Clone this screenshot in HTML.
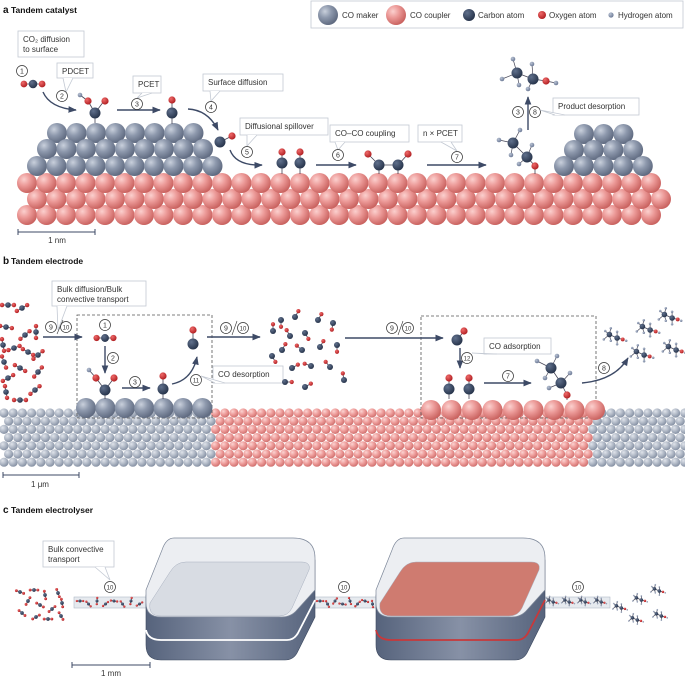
<!DOCTYPE html>
<html><head><meta charset="utf-8"><style>
html,body{margin:0;padding:0;background:#fff}
svg{display:block}
text{font-family:"Liberation Sans",sans-serif}
</style></head><body>
<svg id="s" width="685" height="676" viewBox="0 0 685 676" xmlns="http://www.w3.org/2000/svg">
<defs>
<radialGradient id="gG" cx="35%" cy="32%" r="70%"><stop offset="0" stop-color="#c9d0dc"/><stop offset="0.45" stop-color="#8e99ad"/><stop offset="1" stop-color="#5f6a80"/></radialGradient>
<radialGradient id="gP" cx="35%" cy="32%" r="70%"><stop offset="0" stop-color="#fbd0ce"/><stop offset="0.45" stop-color="#ec9a98"/><stop offset="1" stop-color="#c9625f"/></radialGradient>
<radialGradient id="gSg" cx="35%" cy="32%" r="70%"><stop offset="0" stop-color="#dfe3ea"/><stop offset="0.5" stop-color="#b3bbc8"/><stop offset="1" stop-color="#8590a3"/></radialGradient>
<radialGradient id="gSp" cx="35%" cy="32%" r="70%"><stop offset="0" stop-color="#fbd3d1"/><stop offset="0.5" stop-color="#ee9d9b"/><stop offset="1" stop-color="#d0706e"/></radialGradient>
<radialGradient id="gC" cx="35%" cy="32%" r="70%"><stop offset="0" stop-color="#60708c"/><stop offset="1" stop-color="#27344b"/></radialGradient>
<radialGradient id="gO" cx="35%" cy="32%" r="70%"><stop offset="0" stop-color="#ef6a6a"/><stop offset="1" stop-color="#b01f22"/></radialGradient>
<radialGradient id="gH" cx="35%" cy="32%" r="70%"><stop offset="0" stop-color="#b9c3d4"/><stop offset="1" stop-color="#6d7a96"/></radialGradient>
<linearGradient id="body" x1="0" x2="1"><stop offset="0" stop-color="#56637c"/><stop offset="0.5" stop-color="#8791a6"/><stop offset="1" stop-color="#56637c"/></linearGradient>
<marker id="ar" viewBox="0 0 10 10" refX="9" refY="5" markerWidth="6" markerHeight="6" orient="auto"><path d="M0,1 L10,5 L0,9 z" fill="#3d4a66"/></marker>
</defs>
<g id="g"></g>
</svg>
<script>
var G=document.getElementById('g'),NS='http://www.w3.org/2000/svg';
function el(t,a,txt){var e=document.createElementNS(NS,t);for(var k in a)e.setAttribute(k,a[k]);if(txt!=null)e.textContent=txt;G.appendChild(e);return e;}
function sp(x,y,r,f){el('circle',{cx:x,cy:y,r:r,fill:'url(#'+f+')'});}
function ln(x1,y1,x2,y2,c,w){el('line',{x1:x1,y1:y1,x2:x2,y2:y2,stroke:c||'#3d4a66','stroke-width':w||1});}
function C(x,y,r){sp(x,y,r||5,'gC');}function O(x,y,r){sp(x,y,r||3.5,'gO');}function H(x,y,r){sp(x,y,r||2.3,'gH');}
function txt(x,y,s,sz,a,w,col){el('text',{x:x,y:y,'font-size':sz||8,'text-anchor':a||'start','font-weight':w||'normal',fill:col||'#333'},s);}
function cn(x,y,n){el('circle',{cx:x,cy:y,r:5.5,fill:'#fff',stroke:'#333','stroke-width':0.7});txt(x,y+2.5,n,n>9?6:7,'middle');}
function box(x,y,w,h,lines,tx,ty,px){el('rect',{x:x,y:y,width:w,height:h,fill:'#fff',stroke:'#c3c9d3','stroke-width':0.8});
 lines.forEach(function(l,i){txt(x+5,y+11+i*10,l,8);});
 if(tx!=null){var bx=px||x+w*0.4;el('path',{d:'M'+(bx-5)+','+(y+h)+' L'+tx+','+ty+' L'+(bx+5)+','+(y+h),fill:'#fff',stroke:'#c3c9d3','stroke-width':0.8});}}
function arr(d){el('path',{d:d,fill:'none',stroke:'#3d4a66','stroke-width':1.4,'marker-end':'url(#ar)'});}
function co(x,y,ang,s){s=s||1;var a=ang*Math.PI/180;ln(x,y,x+Math.cos(a)*10*s,y+Math.sin(a)*10*s,'#445',0.8);C(x,y,4*s);O(x+Math.cos(a)*9*s,y+Math.sin(a)*9*s,2.8*s);}
function co2(x,y,ang,s){s=s||1;var a=ang*Math.PI/180,dx=Math.cos(a)*7*s,dy=Math.sin(a)*7*s;ln(x-dx,y-dy,x+dx,y+dy,'#445',0.8);O(x-dx,y-dy,2.6*s);O(x+dx,y+dy,2.6*s);C(x,y,3.3*s);}
function eth(x,y,s){s=s||1;
 ln(x-8*s,y-5*s,x+3*s,y,'#445',0.8);ln(x+3*s,y,x+11*s,y+2*s,'#445',0.8);
 [[-14,-10],[-16,2],[-6,-14],[-6,4],[3,-9],[3,9]].forEach(function(p){ln(p[0]<-5?x-8*s:x+3*s,p[0]<-5?y-5*s:y,x+p[0]*s,y+p[1]*s,'#445',0.7);H(x+p[0]*s,y+p[1]*s,1.8*s);});
 C(x-8*s,y-5*s,4*s);C(x+3*s,y,4*s);O(x+11*s,y+2*s,2.8*s);H(x+16*s,y+4*s,1.8*s);}
// ===== Panel a =====
txt(3,13,'a',10,'start','bold','#111');txt(11,13,'Tandem catalyst',8.5,'start','bold','#111');
el('rect',{x:311,y:1,width:372,height:27,fill:'#fff',stroke:'#c3c9d3','stroke-width':0.8});
sp(328,15,10,'gG');txt(342,18,'CO maker',8);sp(396,15,10,'gP');txt(410,18,'CO coupler',8);
C(469,15,6);txt(478,18,'Carbon atom',8);O(542,15,4);txt(549,18,'Oxygen atom',8);H(611,15,2.6);txt(618,18,'Hydrogen atom',8);
for(var r=2;r>=0;r--){var yy=183+r*16,x0=r==1?37:27,xe=r==1?664:654;for(var x=x0;x<=xe;x+=19.5)sp(x,yy,10,'gP');}
[[133,57,8],[149,47,9],[166,37,10]].forEach(function(q){for(var i=0;i<q[2];i++)sp(q[1]+i*19.5,q[0],10,'gG');});
[[134,584,3],[150,574,4],[166,564,5]].forEach(function(q){for(var i=0;i<q[2];i++)sp(q[1]+i*19.7,q[0],10,'gG');});
box(18,31,66,26,['CO\u2082 diffusion','to surface']);cn(22,71,1);co2(33,84,0,1.3);
arr('M43,92 Q50,108 76,110');box(57,63,36,15,['PDCET'],66,92,68);cn(62,96,2);
ln(95,113,95,123,'#445',0.8);ln(95,113,88,101,'#445',0.8);ln(95,113,104,101,'#445',0.8);ln(88,101,80,95,'#445',0.8);H(80,95,2.3);O(88,101,3.6);O(105,101,3.6);C(95,113,5.5);
arr('M117,110 L160,110');box(133,76,28,17,['PCET'],137,98,147);cn(137,104,3);
ln(172,113,172,124,'#445',0.8);ln(172,113,172,100,'#445',0.8);O(172,100,3.6);C(172,113,5.5);
box(203,74,80,17,['Surface diffusion'],211,101,215);cn(211,107,4);arr('M188,109 Q208,110 218,130');
ln(220,142,232,136,'#445',0.8);O(232,136,3.6);C(220,142,5.5);
box(240,118,88,17,['Diffusional spillover'],247,146,252);cn(247,152,5);arr('M230,150 Q236,166 262,165');
[282,300].forEach(function(x){ln(x,163,x,174,'#445',0.8);ln(x,163,x,152,'#445',0.8);O(x,152,3.6);C(x,163,5.5);});
arr('M316,165 L356,165');box(330,125,79,17,['CO\u2013CO coupling'],338,150,340);cn(338,155,6);
ln(379,165,398,165,'#445',0.8);ln(379,165,368,154,'#445',0.8);ln(398,165,408,154,'#445',0.8);ln(379,165,379,174,'#445',0.8);ln(398,165,398,174,'#445',0.8);
O(368,154,3.6);O(408,154,3.6);C(379,165,5.5);C(398,165,5.5);
arr('M427,165 L486,165');box(418,125,44,17,['n \u00d7 PCET'],457,151,446);cn(457,157,7);
ln(513,143,527,157,'#445',0.8);ln(527,157,535,166,'#445',0.8);ln(535,166,535,174,'#445',0.8);
[[499,140],[520,130],[511,155],[532,145],[519,164]].forEach(function(p,i){ln(i<3?513:527,i<3?143:157,p[0],p[1],'#445',0.7);H(p[0],p[1],2.3);});
C(513,143,5.5);C(527,157,5.5);O(535,166,3.6);
arr('M528,130 L528,97');cn(518,112,3);cn(535,112,8);box(553,98,86,17,['Product desorption'],540,110,560);
ln(517,73,533,79,'#445',0.8);ln(533,79,546,81,'#445',0.8);ln(546,81,556,83,'#445',0.8);
[[502,79],[513,59],[519,85],[532,64],[528,89]].forEach(function(p,i){ln(i<3?517:533,i<3?73:79,p[0],p[1],'#445',0.7);H(p[0],p[1],2.3);});
H(556,83,2.3);C(517,73,5.5);C(533,79,5.5);O(546,81,3.6);
ln(18,232,95,232,'#3d4a66',1);ln(18,229,18,235,'#3d4a66',1);ln(95,229,95,235,'#3d4a66',1);txt(57,243,'1 nm',8,'middle');
// ===== Panel b =====
txt(3,264,'b',10,'start','bold','#111');txt(11,264,'Tandem electrode',8.5,'start','bold','#111');
for(var i=0;i<7;i++){var yy=413+i*8.2,off=(i%2)?4.6:0;for(var x=4+off;x<685;x+=9.2){sp(x,yy,4.6,(x>=213&&x<590)?'gSp':'gSg');}}
el('rect',{x:77,y:315,width:135,height:103,fill:'none',stroke:'#555','stroke-width':0.8,'stroke-dasharray':'3,2'});
el('rect',{x:421,y:316,width:175,height:102,fill:'none',stroke:'#555','stroke-width':0.8,'stroke-dasharray':'3,2'});
for(var i=0;i<7;i++)sp(86+i*19.4,408,10,'gG');
for(var i=0;i<9;i++)sp(431+i*20.5,410,10,'gP');
[[8,305,0],[22,308,-30],[6,327,10],[25,335,-40],[36,332,90],[3,345,80],[14,348,-20],[28,352,30],[4,362,70],[20,368,30],[38,355,-40],[8,378,-30],[38,372,-50],[6,392,80],[20,400,0],[35,390,-40]].forEach(function(p){co2(p[0],p[1],p[2],0.85);});
box(52,281,94,25,['Bulk diffusion/Bulk','convective transport'],58,330,62);
cn(51,327,9);cn(66,327,10);ln(57,334,63,320,'#333',0.6);arr('M43,337 L82,337');
cn(105,325,1);co2(105,338,0,1.2);arr('M105,346 L105,373');cn(113,358,2);
ln(105,390,105,399,'#445',0.8);ln(105,390,96,378,'#445',0.8);ln(105,390,114,378,'#445',0.8);ln(96,378,89,370,'#445',0.8);H(89,370,2.3);O(96,378,3.6);O(114,378,3.6);C(105,390,5.5);
arr('M122,388 L150,388');cn(135,382,3);
ln(163,389,163,399,'#445',0.8);ln(163,389,163,376,'#445',0.8);O(163,376,3.6);C(163,389,5.5);
arr('M172,384 Q192,380 197,357');ln(193,330,193,344,'#445',0.8);O(193,330,3.6);C(193,344,5.5);
cn(196,380,11);box(213,366,70,17,['CO desorption'],201,376,220);
cn(226,328,9);cn(243,328,10);ln(232,335,237,321,'#333',0.6);arr('M207,337 L260,337');
[[281,320,90],[295,317,-60],[273,331,-90],[290,336,-120],[305,333,60],[318,320,-60],[333,323,100],[282,350,-60],[302,350,-140],[320,347,-60],[337,345,90],[272,356,60],[292,368,-30],[311,366,-160],[330,367,-130],[344,380,-100],[285,382,0],[305,387,-30]].forEach(function(p){co(p[0],p[1],p[2],0.75);});
cn(392,328,9);cn(408,328,10);ln(398,335,403,321,'#333',0.6);arr('M345,338 L443,338');
ln(457,340,464,331,'#445',0.8);O(464,331,3.6);C(457,340,5.5);
arr('M460,348 L460,368');cn(467,358,12);box(484,338,67,16,['CO adsorption'],472,353,492);
[449,469].forEach(function(x){ln(x,389,x,399,'#445',0.8);ln(x,389,x,378,'#445',0.8);O(x,378,3.6);C(x,389,5.5);});
arr('M484,383 L531,383');cn(508,376,7);
ln(551,368,561,383,'#445',0.8);ln(561,383,567,395,'#445',0.8);ln(567,395,567,400,'#445',0.8);
[[537,361],[557,356],[545,378],[570,373],[549,388]].forEach(function(p,i){ln(i<3?551:561,i<3?368:383,p[0],p[1],'#445',0.7);H(p[0],p[1],2.3);});
C(551,368,5.5);C(561,383,5.5);O(567,395,3.6);
cn(604,368,8);arr('M582,383 Q615,380 628,358');
eth(615,338,0.7);eth(648,330,0.7);eth(670,318,0.7);eth(642,355,0.7);eth(674,350,0.7);
ln(3,475,79,475,'#3d4a66',1);ln(3,472,3,478,'#3d4a66',1);ln(79,472,79,478,'#3d4a66',1);txt(40,487,'1 \u03bcm',8,'middle');
// ===== Panel c =====
txt(3,513,'c',10,'start','bold','#111');txt(11,513,'Tandem electrolyser',8.5,'start','bold','#111');
function dev(L,face,stripe){
 var R=L+169;
 el('path',{d:'M'+L+',595 L'+L+',645 Q'+L+',660 '+(L+15)+',660 L'+(R-30)+',660 Q'+(R-22)+',660 '+(R-18)+',653 L'+R+',617 L'+R+',560 Z',fill:'url(#body)',stroke:'#3e4a60','stroke-width':0.6});
 el('path',{d:'M'+L+',630 Q'+(L+2)+',640 '+(L+15)+',640 L'+(R-28)+',640 Q'+(R-21)+',640 '+(R-17)+',633 L'+R+',600',fill:'none',stroke:stripe,'stroke-width':1.8});
 el('path',{d:'M'+(L+28)+',538 L'+(R-22)+',538 Q'+R+',538 '+R+',558 L'+R+',590 L'+(R-18)+',610 Q'+(R-24)+',617 '+(R-33)+',617 L'+(L+15)+',617 Q'+L+',617 '+L+',603 L'+L+',590 L'+(L+16)+',550 Q'+(L+20)+',538 '+(L+28)+',538 Z',fill:'#eceef2',stroke:'#7e889a','stroke-width':0.7});
 el('path',{d:'M'+(L+40)+',562 L'+(R-14)+',562 Q'+(R-4)+',562 '+(R-6)+',570 L'+(R-23)+',608 Q'+(R-27)+',616 '+(R-36)+',616 L'+(L+15)+',616 Q'+(L+2)+',616 '+(L+4)+',603 L'+(L+24)+',572 Q'+(L+30)+',562 '+(L+40)+',562 Z',fill:face,stroke:'#a8b0bf','stroke-width':0.5});
}
[[74,72],[306,74],[533,77]].forEach(function(t){el('rect',{x:t[0],y:597,width:t[1],height:11,fill:'#e4e8ee',stroke:'#a8b2c2','stroke-width':0.6,opacity:0.9});});
dev(146,'#d8dce3','#ffffff');dev(376,'#cf7b70','#c8383a');
box(43,541,71,26,['Bulk convective','transport'],110,580,100);
cn(110,587,10);cn(344,587,10);cn(578,587,10);
for(var i=0;i<8;i++)co2(80+i*8.5,602+(i%2?2:-1),(i*47)%180,0.45);
for(var i=0;i<8;i++)co2(320+i*7.5,602+(i%2?2:-1),(i*63)%180,0.45);
for(var i=0;i<4;i++)eth(552+i*16,602,0.4);
[[20,592,20],[34,590,0],[45,595,80],[58,593,70],[28,601,-60],[40,605,30],[52,609,-40],[62,603,80],[22,613,40],[36,617,-30],[48,619,0],[61,616,60]].forEach(function(p){co2(p[0],p[1],p[2],0.55);});
eth(620,608,0.45);eth(640,600,0.45);eth(658,591,0.45);eth(636,620,0.45);eth(660,616,0.45);
ln(72,665,150,665,'#3d4a66',1);ln(72,662,72,668,'#3d4a66',1);ln(150,662,150,668,'#3d4a66',1);txt(111,676,'1 mm',8,'middle');
</script>
</body></html>
